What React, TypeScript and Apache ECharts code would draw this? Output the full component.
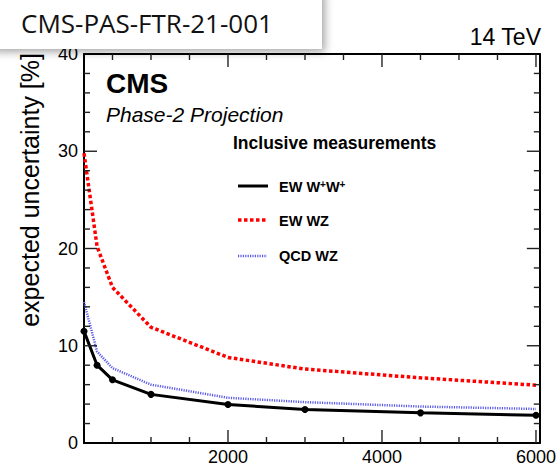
import React, { useEffect, useRef } from "react";
import * as echarts from "echarts";

// Integrated luminosity [fb^-1]
const lumi = [130, 300, 500, 1000, 2000, 3000, 4500, 6000];
// expected uncertainty [%]
const ewWpWp = [11.5, 8.0, 6.5, 5.0, 3.95, 3.45, 3.1, 2.85];
const ewWZ = [29.8, 20.2, 16.0, 11.9, 8.8, 7.6, 6.7, 5.95];
const qcdWZ = [14.5, 9.4, 7.7, 6.0, 4.65, 4.2, 3.75, 3.5];

const xMajorTicks = [2000, 4000, 6000];
const xMinorTicks = [500, 1000, 1500, 2500, 3000, 3500, 4500, 5000, 5500];
const yMajorTicks = [10, 20, 30];
const yMinorTicks = [2, 4, 6, 8, 12, 14, 16, 18, 22, 24, 26, 28, 32, 34, 36, 38];

const FONT = "'Liberation Sans', Arial, Helvetica, sans-serif";
const X_MIN = 130;
const X_MAX = 6050;
const Y_MIN = 0;
const Y_MAX = 40;

const W = 559;
const H = 466;
const GRID = { left: 84, right: 19, top: 54, bottom: 23 };
const MAJOR_LEN = 13;
const MINOR_LEN = 6;

export default function App() {
  const ref = useRef<HTMLDivElement>(null);
  useEffect(() => {
    document.body.style.margin = "0";
    const chart = echarts.init(ref.current!, null, { renderer: "svg" });
    const axisLine = { show: true, onZero: false, lineStyle: { color: "#000", width: 2 } };

    const mk = (ys: number[]) => lumi.map((x, i) => [x, ys[i]]);

    // tick lengths (pixels) expressed in axis units
    const plotW = W - GRID.left - GRID.right;
    const plotH = H - GRID.top - GRID.bottom;
    const xUnit = (X_MAX - X_MIN) / plotW;
    const yUnit = (Y_MAX - Y_MIN) / plotH;

    const tickSeries: any[] = [];
    const tickLine = (data: number[][]) =>
      tickSeries.push({
        type: "line",
        data,
        symbol: "none",
        silent: true,
        clip: false,
        z: 6,
        lineStyle: { color: "#222", width: 1.4 },
      });
    const addX = (vals: number[], len: number) =>
      vals.forEach((v) => {
        tickLine([[v, Y_MIN], [v, Y_MIN + len * yUnit]]);
        tickLine([[v, Y_MAX], [v, Y_MAX - len * yUnit]]);
      });
    const addY = (vals: number[], len: number) =>
      vals.forEach((v) => {
        tickLine([[X_MIN, v], [X_MIN + len * xUnit, v]]);
        tickLine([[X_MAX, v], [X_MAX - len * xUnit, v]]);
      });
    addX(xMajorTicks, MAJOR_LEN);
    addX(xMinorTicks, MINOR_LEN);
    addY(yMajorTicks, MAJOR_LEN);
    addY(yMinorTicks, MINOR_LEN);

    chart.setOption({
      animation: false,
      grid: { ...GRID, containLabel: false },
      xAxis: [
        {
          type: "value",
          position: "bottom",
          min: X_MIN,
          max: X_MAX,
          splitLine: { show: false },
          axisLine,
          axisTick: { show: false },
          axisLabel: {
            show: true,
            customValues: xMajorTicks,
            formatter: (v: number) => String(v),
            fontSize: 18,
            color: "#000",
            fontFamily: FONT,
            margin: 5,
          },
        },
        {
          type: "value",
          position: "top",
          min: X_MIN,
          max: X_MAX,
          splitLine: { show: false },
          axisLine,
          axisTick: { show: false },
          axisLabel: { show: false },
        },
      ],
      yAxis: [
        {
          type: "value",
          position: "left",
          min: Y_MIN,
          max: Y_MAX,
          interval: 10,
          splitLine: { show: false },
          axisLine,
          axisTick: { show: false },
          axisLabel: {
            show: true,
            formatter: (v: number) => String(v),
            fontSize: 18,
            color: "#000",
            fontFamily: FONT,
            margin: 6,
          },
        },
        {
          type: "value",
          position: "right",
          min: Y_MIN,
          max: Y_MAX,
          interval: 10,
          splitLine: { show: false },
          axisLine,
          axisTick: { show: false },
          axisLabel: { show: false },
        },
      ],
      series: [
        ...tickSeries,
        {
          name: "EW WZ",
          type: "line",
          data: mk(ewWZ),
          symbol: "none",
          lineStyle: { color: "#ff0000", width: 3.5, type: [3.5, 2.5], cap: "butt" },
          z: 2,
        },
        {
          name: "QCD WZ",
          type: "line",
          data: mk(qcdWZ),
          symbol: "none",
          lineStyle: { color: "#5b5be6", width: 2.5, type: [1.2, 1.2], cap: "butt" },
          z: 3,
        },
        {
          name: "EW W+W+",
          type: "line",
          data: mk(ewWpWp),
          symbol: "circle",
          symbolSize: 7,
          itemStyle: { color: "#000" },
          lineStyle: { color: "#000", width: 3 },
          z: 4,
        },
      ],
      graphic: [
        {
          type: "text",
          x: 30,
          y: 53,
          rotation: Math.PI / 2,
          style: {
            text: "expected uncertainty [%]",
            font: `25px ${FONT}`,
            fill: "#000",
            align: "right",
            verticalAlign: "middle",
          },
        },
        {
          type: "text",
          x: 106,
          y: 83,
          style: { text: "CMS", font: `bold 28px ${FONT}`, fill: "#000", align: "left", verticalAlign: "middle" },
        },
        {
          type: "text",
          x: 106,
          y: 114,
          style: {
            text: "Phase-2 Projection",
            font: `italic 21px ${FONT}`,
            fill: "#000",
            align: "left",
            verticalAlign: "middle",
          },
        },
        {
          type: "text",
          x: 233,
          y: 143,
          style: {
            text: "Inclusive measurements",
            font: `bold 17.5px ${FONT}`,
            fill: "#000",
            align: "left",
            verticalAlign: "middle",
          },
        },
        {
          type: "line",
          shape: { x1: 238, y1: 186, x2: 268, y2: 186 },
          style: { stroke: "#000", lineWidth: 3 },
        },
        {
          type: "text",
          x: 279,
          y: 187,
          style: {
            text: "{n|EW W}{s|+}{n|W}{s|+}",
            align: "left",
            verticalAlign: "middle",
            rich: {
              n: { fontSize: 14.5, fontWeight: "bold", fontFamily: FONT, fill: "#000", lineHeight: 16 },
              s: { fontSize: 10, fontWeight: "bold", fontFamily: FONT, fill: "#000", verticalAlign: "top", lineHeight: 10 },
            },
          },
        },
        {
          type: "line",
          shape: { x1: 238, y1: 220, x2: 267, y2: 220 },
          style: { stroke: "#ff0000", lineWidth: 3.5, lineDash: [3.5, 2.5] },
        },
        {
          type: "text",
          x: 279,
          y: 221,
          style: { text: "EW WZ", font: `bold 14.5px ${FONT}`, fill: "#000", align: "left", verticalAlign: "middle" },
        },
        {
          type: "line",
          shape: { x1: 238, y1: 256, x2: 267, y2: 256 },
          style: { stroke: "#5b5be6", lineWidth: 2.5, lineDash: [1.2, 1.2] },
        },
        {
          type: "text",
          x: 279,
          y: 256,
          style: { text: "QCD WZ", font: `bold 14.5px ${FONT}`, fill: "#000", align: "left", verticalAlign: "middle" },
        },
        {
          type: "text",
          x: 541,
          y: 37,
          style: { text: "14 TeV", font: `23px ${FONT}`, fill: "#000", align: "right", verticalAlign: "middle" },
        },
        {
          type: "rect",
          z: 100,
          shape: { x: -10, y: -10, width: 332, height: 59 },
          style: {
            fill: "#fff",
            shadowBlur: 8,
            shadowColor: "rgba(0,0,0,0.35)",
            shadowOffsetX: 3,
            shadowOffsetY: 3,
          },
        },
        {
          type: "text",
          z: 101,
          x: 21,
          y: 23,
          style: {
            text: "CMS-PAS-FTR-21-001",
            font: `26px 'Open Sans', sans-serif`,
            fill: "#111",
            align: "left",
            verticalAlign: "middle",
          },
        },
      ],
    });

    return () => chart.dispose();
  }, []);
  return <div ref={ref} style={{ width: W, height: H }} />;
}
